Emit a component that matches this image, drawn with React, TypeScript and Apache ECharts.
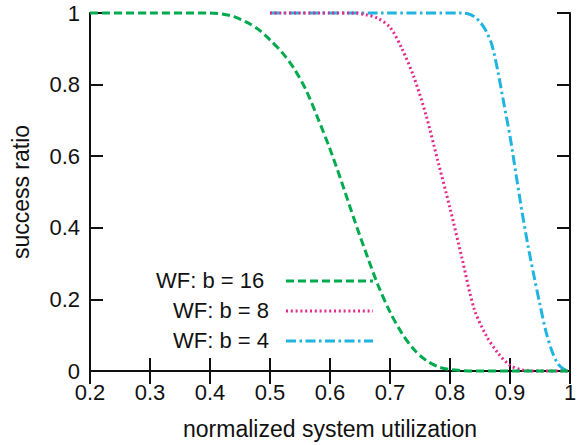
import React, { useEffect, useRef } from "react";
import * as echarts from "echarts";

const xTicks = [0.2, 0.3, 0.4, 0.5, 0.6, 0.7, 0.8, 0.9, 1.0];
const yTicks = [0, 0.2, 0.4, 0.6, 0.8, 1];

const legendLabels = ["WF: b = 16", "WF: b = 8", "WF: b = 4"];

const xB16 = [0.2, 0.3, 0.4, 0.42, 0.44, 0.46, 0.48, 0.5, 0.52, 0.54, 0.56, 0.58, 0.6, 0.62, 0.64, 0.66, 0.68, 0.7, 0.72, 0.74, 0.76, 0.78, 0.8, 0.82, 0.84, 0.9, 1.0];
const yB16 = [1, 1, 1, 0.997, 0.99, 0.975, 0.955, 0.925, 0.89, 0.845, 0.785, 0.705, 0.62, 0.525, 0.425, 0.33, 0.24, 0.165, 0.105, 0.06, 0.03, 0.012, 0.004, 0.001, 0, 0, 0];

const xB8 = [0.5, 0.6, 0.64, 0.66, 0.68, 0.7, 0.72, 0.74, 0.76, 0.78, 0.8, 0.82, 0.84, 0.86, 0.88, 0.9, 0.92, 0.94, 1.0];
const yB8 = [1, 1, 1, 0.995, 0.985, 0.96, 0.9, 0.82, 0.715, 0.585, 0.455, 0.315, 0.175, 0.1, 0.05, 0.016, 0.003, 0, 0];

const xB4 = [0.5, 0.7, 0.82, 0.83, 0.84, 0.85, 0.86, 0.87, 0.88, 0.89, 0.9, 0.91, 0.92, 0.93, 0.94, 0.95, 0.96, 0.97, 0.98, 0.99, 1.0];
const yB4 = [1, 1, 1, 0.998, 0.99, 0.975, 0.95, 0.91, 0.835, 0.745, 0.656, 0.55, 0.445, 0.35, 0.265, 0.185, 0.11, 0.055, 0.02, 0.005, 0];

const colors = ["#00aa4f", "#e6288c", "#20b4e0"];
const dashes = [[8, 4], [2, 2.8], [10, 3.5, 2.5, 3.5]];

const FONT = "Liberation Sans, Arial, Helvetica, sans-serif";
const FS = 22;

function pairs(xs: number[], ys: number[]) {
  return xs.map((x, i) => [x, ys[i]]);
}

export default function App() {
  const ref = useRef<HTMLDivElement>(null);
  useEffect(() => {
    if (!ref.current) return;
    const chart = echarts.init(ref.current, null, { renderer: "svg" });
    const axisLine = { show: true, lineStyle: { color: "#111", width: 2 } };
    const axisTick = { show: true, inside: true, length: 13, lineStyle: { color: "#111", width: 2 } };
    const label = { fontFamily: FONT, fontSize: FS, color: "#111" };
    const series = [
      [xB16, yB16],
      [xB8, yB8],
      [xB4, yB4],
    ].map(([xs, ys], i) => ({
      type: "line",
      name: legendLabels[i],
      data: pairs(xs, ys),
      showSymbol: false,
      symbol: "none",
      smooth: 0.3,
      clip: false,
      lineStyle: { color: colors[i], width: 3, type: dashes[i], cap: "butt" },
      z: 5 - i,
    }));
    const legendRows = [
      { tx: 156, y: 281 },
      { tx: 173, y: 311 },
      { tx: 173, y: 341 },
    ];
    const graphic: any[] = [];
    legendRows.forEach((r, i) => {
      graphic.push({
        type: "text",
        left: r.tx,
        top: r.y - 12,
        style: { text: legendLabels[i], font: `${FS}px ${FONT}`, fill: "#111" },
      });
      graphic.push({
        type: "line",
        shape: { x1: 286, y1: r.y, x2: 373, y2: r.y },
        style: { stroke: colors[i], lineWidth: 3, lineDash: dashes[i] },
      });
    });
    chart.setOption({
      animation: false,
      grid: { left: 90, right: 12, top: 13, bottom: 72 },
      xAxis: [
        {
          type: "value",
          min: 0.2,
          max: 1,
          interval: 0.1,
          position: "bottom",
          name: "normalized system utilization",
          nameLocation: "middle",
          nameGap: 46,
          nameTextStyle: { fontFamily: FONT, fontSize: 23, color: "#111" },
          axisLine,
          axisTick,
          splitLine: { show: false },
          axisLabel: { ...label, margin: 10, formatter: (v: number) => String(+v.toFixed(1)) },
        },
        {
          type: "value",
          min: 0.2,
          max: 1,
          interval: 0.1,
          position: "top",
          axisLine,
          axisTick,
          splitLine: { show: false },
          axisLabel: { show: false },
        },
      ],
      yAxis: [
        {
          type: "value",
          min: 0,
          max: 1,
          interval: 0.2,
          position: "left",
          name: "success ratio",
          nameLocation: "middle",
          nameGap: 58,
          nameTextStyle: { fontFamily: FONT, fontSize: 23, color: "#111" },
          axisLine,
          axisTick,
          splitLine: { show: false },
          axisLabel: { ...label, margin: 10, padding: [6, 0, 0, 0], formatter: (v: number) => String(+v.toFixed(1)) },
        },
        {
          type: "value",
          min: 0,
          max: 1,
          interval: 0.2,
          position: "right",
          axisLine,
          axisTick,
          splitLine: { show: false },
          axisLabel: { show: false },
        },
      ],
      series,
      graphic,
    });
    return () => chart.dispose();
  }, []);
  return <div ref={ref} style={{ width: 582, height: 445, position: "absolute", left: 0, top: 0, background: "#fff" }} />;
}
